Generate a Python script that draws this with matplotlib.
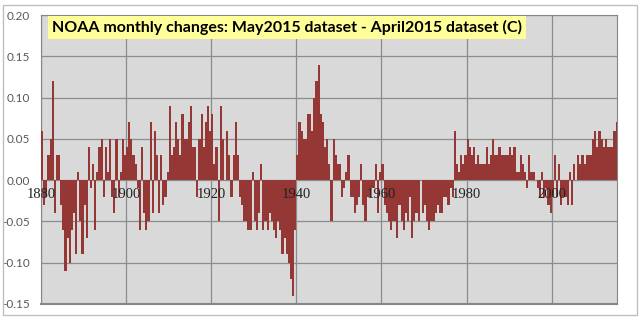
import matplotlib
matplotlib.use("Agg")
import matplotlib.pyplot as plt
import numpy as np
from matplotlib.patches import Rectangle

# half-year changes (C), 1880.0 .. 2015.0
years = list(range(1880, 2016))
h1 = [0.06, -0.02, 0.05, -0.04, 0.03, -0.06, -0.07, -0.06, -0.09, -0.05,
      -0.03, 0.04, 0.02, 0.01, 0.05, 0.04, 0.05, -0.04, -0.02, 0.05,
      0.04, 0.05, 0.02, -0.06, -0.04, -0.05, -0.04, 0.03, 0.03, -0.02,
      0.09, 0.04, 0.05, 0.08, 0.05, 0.09, 0.04, 0.05, 0.04, 0.09,
      0.08, 0.04, 0.09, 0.00, 0.03, 0.03, 0.03, -0.03, -0.05, -0.06,
      -0.05, -0.04, -0.06, -0.06, -0.05, -0.07, -0.06, -0.07, -0.10, -0.14,
      0.03, 0.06, 0.05, 0.08, 0.10, 0.14, 0.07, 0.05, -0.05, 0.03,
      0.02, -0.01, 0.03, -0.02, -0.03, 0.02, -0.05, -0.02, -0.01, -0.04,
      0.02, -0.04, -0.06, -0.05, -0.03, -0.06, -0.05, -0.07, -0.04, 0.00,
      -0.03, -0.06, -0.05, -0.03, -0.04, -0.02, -0.01, 0.06, 0.01, 0.02,
      0.05, 0.03, 0.02, 0.02, 0.02, 0.02, 0.05, 0.03, 0.03, 0.03,
      0.04, 0.04, 0.01, 0.02, -0.01, 0.01, 0.00, -0.02, -0.02, -0.03,
      -0.02, -0.02, -0.03, -0.02, 0.01, 0.02, 0.03, 0.03, 0.03, 0.03,
      0.06, 0.06, 0.04, 0.04, 0.04, 0.07]
h2 = [-0.03, 0.03, 0.12, 0.03, -0.03, -0.11, -0.10, -0.04, 0.01, -0.09,
      -0.07, -0.01, -0.06, 0.04, -0.02, 0.01, -0.02, 0.05, 0.01, 0.03,
      0.07, 0.03, -0.01, 0.04, -0.06, 0.07, 0.06, -0.04, -0.03, 0.01,
      0.03, 0.07, 0.03, 0.05, 0.07, 0.04, -0.02, 0.08, 0.07, 0.06,
      0.02, -0.05, 0.05, 0.06, -0.02, 0.07, -0.02, -0.05, -0.06, 0.01,
      -0.06, 0.02, -0.05, -0.04, -0.06, -0.05, -0.09, -0.09, -0.12, -0.06,
      0.07, 0.05, 0.08, 0.06, 0.12, 0.08, 0.04, 0.02, 0.05, 0.02,
      -0.02, 0.01, -0.02, -0.04, -0.02, -0.03, -0.02, -0.01, 0.02, 0.01,
      -0.03, -0.05, -0.05, -0.07, -0.05, -0.04, -0.02, -0.05, -0.05, -0.04,
      -0.05, -0.05, -0.04, -0.04, -0.02, -0.03, -0.02, 0.02, 0.03, 0.03,
      0.04, 0.04, 0.03, 0.02, 0.04, 0.03, 0.03, 0.04, 0.03, 0.03,
      0.03, 0.01, 0.03, 0.01, 0.03, 0.01, -0.01, 0.01, -0.01, -0.04,
      0.03, 0.02, -0.02, -0.03, -0.03, 0.00, 0.02, 0.02, 0.03, 0.05,
      0.04, 0.05, 0.05, 0.04, 0.06]
title = "NOAA monthly changes: May2015 dataset - April2015 dataset (C)"
xticks = [1880, 1900, 1920, 1940, 1960, 1980, 2000]
yticks = [-0.15, -0.10, -0.05, 0.00, 0.05, 0.10, 0.15, 0.20]

# interleave the two halves of each year
xs, vals = [], []
for i, y in enumerate(years):
    xs.append(y); vals.append(h1[i])
    if i < len(h2):
        xs.append(y + 0.5); vals.append(h2[i])

fig = plt.figure(figsize=(6.4, 3.21), dpi=100)
ax = fig.add_axes([41/640, 1-304/321, 576/640, 289/321])
ax.set_facecolor('#d9d9d9')

ax.bar(xs, vals, width=0.5, align='edge', color='#953735', linewidth=0, zorder=3)

ax.set_xlim(1880, 2015.35)
ax.set_ylim(-0.15, 0.20)
ax.set_yticks(yticks)
ax.set_yticklabels(['%.2f' % v for v in yticks], family='Lato', fontsize=8.5, color='#595959')
ax.set_xticks(xticks)
ax.set_xticklabels([])
# year labels sit just under the zero line, drawn over the bars like in Excel
for yr in xticks:
    ax.text(yr, -0.0095, str(yr), ha='center', va='top', family='Liberation Serif',
            fontsize=10.5, color='#222222', zorder=5, clip_on=False)
for s in ['top', 'right', 'left', 'bottom']:
    ax.spines[s].set_color('#868686')
ax.spines['bottom'].set_linewidth(1.5)
ax.tick_params(axis='both', length=0)
ax.tick_params(axis='y', pad=8)
ax.grid(True, color='#8c8c8c', linewidth=0.9, zorder=1)
ax.set_axisbelow(True)

fig.text(287/640, 1-27.5/321, title, ha='center', va='center', family='Lato',
         fontsize=11.5, weight='bold', color='black',
         bbox=dict(boxstyle='square,pad=0.25', facecolor='#ffff99', edgecolor='none'))

fig.patches.append(Rectangle((3/640, 1-315/321), 634/640, 310/321, transform=fig.transFigure,
                             fill=False, edgecolor='#bfbfbf', linewidth=1))

fig.savefig('out.png', dpi=100)
